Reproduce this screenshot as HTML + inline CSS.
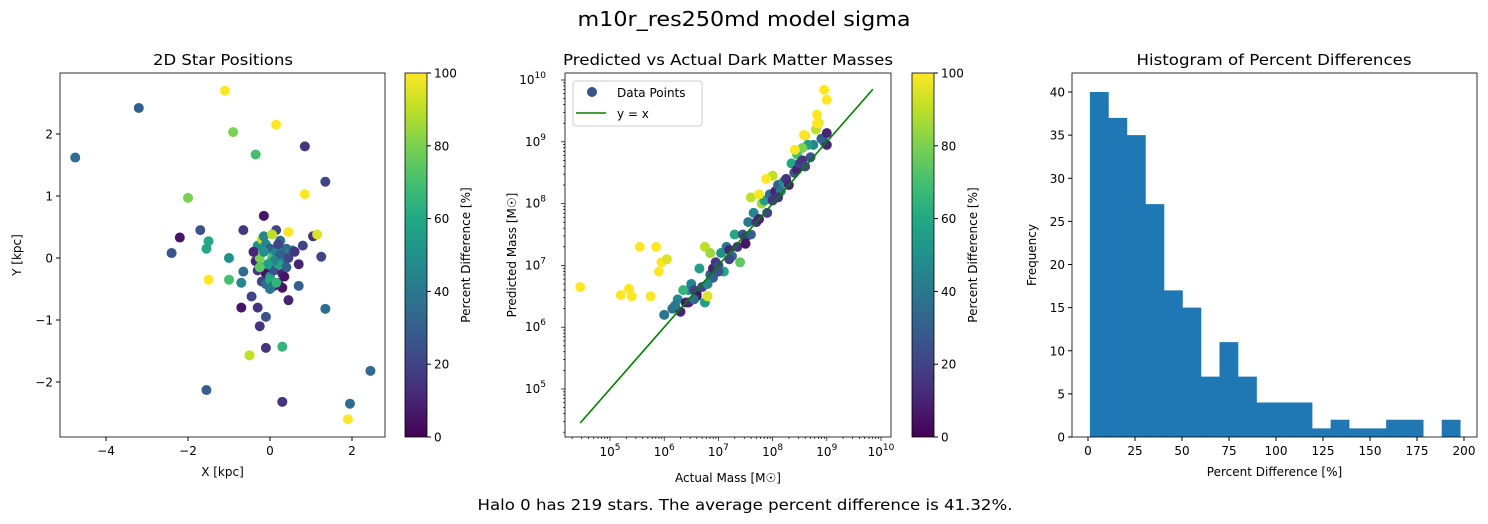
<!DOCTYPE html>
<html><head><meta charset="utf-8"><style>
body{margin:0;background:#fff}
svg{display:block;font-family:"DejaVu Sans","Liberation Sans",sans-serif}
</style></head><body>
<svg id="s" width="1488" height="524" viewBox="0 0 1488 524" xmlns="http://www.w3.org/2000/svg">
<defs>
<linearGradient id="vir" x1="0" y1="1" x2="0" y2="0">
<stop offset="0" stop-color="#440154"/><stop offset="0.1" stop-color="#482475"/><stop offset="0.2" stop-color="#414487"/><stop offset="0.3" stop-color="#355f8d"/><stop offset="0.4" stop-color="#2a788e"/><stop offset="0.5" stop-color="#21918c"/><stop offset="0.6" stop-color="#22a884"/><stop offset="0.7" stop-color="#44bf70"/><stop offset="0.8" stop-color="#7ad151"/><stop offset="0.9" stop-color="#bddf26"/><stop offset="1" stop-color="#fde725"/>
</linearGradient>
</defs>
<text x="744" y="26" font-size="20" text-anchor="middle" textLength="333" lengthAdjust="spacingAndGlyphs">m10r_res250md model sigma</text>
<text x="745" y="510" font-size="15" text-anchor="middle" textLength="535" lengthAdjust="spacingAndGlyphs">Halo 0 has 219 stars. The average percent difference is 41.32%.</text>
<g id="g1"></g>
<g id="g2"></g>
<g id="g3"></g>
</svg>
<script>
// ---- Panel 1 data ----
const posX=[-4.75,-3.2,-1.1,-0.9,0.15,0.85,1.35,0.85,-0.35,-2.0,-1.7,-2.2,-2.4,-1.5,-1.55,-1.0,-1.5,-1.0,-0.7,-0.65,-0.45,-0.7,-0.3,-0.1,-0.25,-0.5,-0.1,0.3,-1.55,0.3,1.35,1.95,2.45,1.9,1.25,1.05,1.15,0.8,0.7,0.7,0.45,0.45,-0.15,0.15,-0.65,
-0.4,-0.3,-0.2,-0.1,0.0,0.1,0.2,0.3,0.4,0.5,-0.35,-0.25,-0.15,-0.05,0.05,0.15,0.25,0.35,0.45,0.55,-0.3,-0.2,-0.1,0.0,0.1,0.2,0.3,0.4,-0.2,-0.1,0.0,0.1,0.2,0.3,-0.15,0.05,0.25,-0.4,0.6,0.1,-0.05,0.2,0.35,0.0,-0.25,0.15];
const posY=[1.62,2.42,2.7,2.03,2.15,1.8,1.23,1.03,1.67,0.97,0.45,0.33,0.08,0.27,0.15,0.0,-0.35,-0.35,-0.4,-0.22,-0.62,-0.8,-0.8,-0.95,-1.1,-1.57,-1.45,-1.43,-2.13,-2.32,-0.82,-2.35,-1.82,-2.6,0.02,0.35,0.38,0.2,-0.1,-0.45,-0.68,0.42,0.68,0.45,0.45,
0.1,0.2,0.3,0.22,0.15,0.05,0.18,0.1,0.15,0.1,-0.05,0.0,0.1,-0.1,0.0,0.1,0.05,-0.05,0.0,0.12,-0.2,-0.15,-0.25,-0.3,-0.2,-0.1,-0.25,-0.15,-0.38,-0.42,-0.35,-0.45,-0.4,-0.48,0.35,0.38,0.28,0.1,0.1,-0.05,-0.1,0.22,-0.3,-0.5,-0.15,-0.4];
const posP=[35,30,100,80,100,15,20,100,70,80,25,5,25,60,60,50,100,70,45,35,20,5,15,25,15,90,15,65,30,15,35,35,35,100,20,15,95,20,10,30,10,100,5,20,15,
20,50,90,45,30,55,40,60,35,45,10,80,50,15,70,45,30,40,20,35,15,60,5,50,25,60,10,30,20,35,60,10,25,5,45,90,35,10,15,45,55,20,5,40,75,65];
// ---- Panel 2 data (log10 masses) ----
const actLog=[4.45,5.2,5.4,5.35,5.55,5.85,5.75,5.9,5.95,6.05,6.0,6.15,6.25,6.3,6.4,6.45,6.5,6.55,6.6,6.7,6.65,6.75,6.8,6.85,6.9,6.95,6.75,6.85,7.0,7.05,7.1,7.15,7.2,7.25,7.3,7.35,7.4,7.45,7.5,7.55,7.6,7.65,7.7,7.75,7.8,7.6,7.85,7.9,7.95,8.0,8.05,8.1,8.0,8.15,8.2,8.25,8.3,8.35,8.4,8.45,8.45,8.5,8.55,8.6,8.7,8.75,8.8,8.85,8.65,8.95,9.0,8.95,9.0,8.9,9.0,8.55,6.35,7.88,7.75,8.41,8.58,8.82,8.82,6.6,6.9,7.2,7.0,6.45,6.2,7.5,8.1,8.6,6.55,6.8];
const predLog=[6.65,6.52,6.5,6.62,7.3,7.3,6.5,6.9,7.05,7.1,6.2,6.3,6.45,6.25,6.4,6.6,6.7,6.6,6.55,6.65,6.95,6.4,6.5,6.85,6.95,7.05,7.3,7.2,7.0,7.2,6.9,7.3,7.25,7.15,7.5,7.3,7.05,7.5,7.45,7.7,7.5,7.85,7.7,7.75,8.0,8.1,8.05,7.85,8.15,8.05,8.2,8.3,8.45,8.2,8.35,8.4,8.3,8.65,8.5,8.55,8.8,8.65,8.7,9.1,8.75,8.95,9.2,9.3,8.95,9.84,9.68,9.0,8.95,9.05,9.14,8.9,6.6,8.4,8.15,8.87,9.11,9.44,9.3,6.5,6.8,7.1,6.9,6.4,6.35,7.35,8.1,8.6,6.45,6.7];
const massP=[100,100,100,100,100,100,100,100,100,95,40,35,45,10,5,50,45,20,15,20,55,55,95,30,10,15,90,85,20,50,60,40,10,35,60,15,75,25,15,40,30,45,15,10,85,90,55,20,35,15,10,30,90,40,50,15,10,60,25,10,70,20,15,95,25,45,90,95,55,100,100,35,10,30,10,80,65,100,100,100,100,100,100,5,30,20,25,10,40,5,15,20,35,45];
// ---- Panel 3 data ----
const binEdges=[1,10.85,20.7,30.55,40.4,50.25,60.1,69.95,79.8,89.65,99.5,109.35,119.2,129.05,138.9,148.75,158.6,168.45,178.3,188.15,198];
const counts=[40,37,35,27,17,15,7,11,7,4,4,4,1,2,1,1,2,2,0,2];

const NS="http://www.w3.org/2000/svg";
function mk(p,t,a,txt){const e=document.createElementNS(NS,t);for(const k in a)e.setAttribute(k,a[k]);if(txt!==undefined)e.textContent=txt;p.appendChild(e);return e;}
const vs=["#440154","#482475","#414487","#355f8d","#2a788e","#21918c","#22a884","#44bf70","#7ad151","#bddf26","#fde725"];
function hx(h){return [1,3,5].map(i=>parseInt(h.substr(i,2),16));}
function vir(p){let t=Math.max(0,Math.min(1,p/100))*10;let i=Math.min(9,Math.floor(t));let f=t-i;const a=hx(vs[i]),b=hx(vs[i+1]);return "rgb("+a.map((v,k)=>Math.round(v+(b[k]-v)*f)).join(",")+")";}
const TS=12;

function colorbar(g,x0,y0,w,h,lx,name){
  const cb=mk(g,"g",{});
  
  
  mk(cb,"rect",{x:x0,y:y0,width:w,height:h,fill:"url(#vir)",stroke:"#000","stroke-width":0.8});
  for(let v=0;v<=100;v+=20){const y=y0+h-v/100*h;mk(cb,"line",{x1:x0+w,x2:x0+w+4,y1:y,y2:y,stroke:"#000"});mk(cb,"text",{x:x0+w+7,y:y+4.5,"font-size":TS},v);}
  const t=mk(cb,"text",{x:lx,y:y0+h/2,"font-size":TS,"text-anchor":"middle",transform:"rotate(-90 "+lx+" "+(y0+h/2)+")"},"Percent Difference [%]");
  
  
}
function title(g,x,txt,len){mk(g,"text",{x:x,y:65,"font-size":15,"text-anchor":"middle",textLength:len,lengthAdjust:"spacingAndGlyphs"},txt);}

// Panel 1
(function(){
  const g=document.getElementById("g1");
  const L=60,R=385,T=73,B=437;
  const sx=v=>270+v*41, sy=v=>258-v*62;
  title(g,223,"2D Star Positions",140);
  for(let i=0;i<posX.length;i++){const c=mk(g,"circle",{cx:sx(posX[i]),cy:sy(posY[i]),r:5,fill:vir(posP[i])});
    
    }
  mk(g,"rect",{x:L,y:T,width:R-L,height:B-T,fill:"none",stroke:"#000","stroke-width":0.8});
  for(let v=-4;v<=2;v+=2){const x=sx(v);mk(g,"line",{x1:x,x2:x,y1:B,y2:B+4,stroke:"#000"});mk(g,"text",{x:x,y:B+18,"font-size":TS,"text-anchor":"middle"},v<0?"\u2212"+(-v):v);}
  for(let v=-2;v<=2;v++){const y=sy(v);mk(g,"line",{x1:L-4,x2:L,y1:y,y2:y,stroke:"#000"});mk(g,"text",{x:L-7,y:y+4.5,"font-size":TS,"text-anchor":"end"},v<0?"\u2212"+(-v):v);}
  mk(g,"text",{x:(L+R)/2,y:476,"font-size":TS,"text-anchor":"middle"},"X [kpc]");
  mk(g,"text",{x:21,y:255,"font-size":TS,"text-anchor":"middle",transform:"rotate(-90 21 255)"},"Y [kpc]");
  colorbar(g,405,73,22,364,470,"colorbar-positions");
})();

// Panel 2
(function(){
  const g=document.getElementById("g2");
  const L=565,R=891,T=73,B=437;
  const sx=v=>610+(v-5)*54.2, sy=v=>389-(v-5)*61.8;
  title(g,728,"Predicted vs Actual Dark Matter Masses",330);
  for(let i=0;i<actLog.length;i++){const c=mk(g,"circle",{cx:sx(actLog[i]),cy:sy(predLog[i]),r:5,fill:vir(massP[i])});
    
    }
  const ln=mk(g,"line",{x1:sx(4.45),y1:sy(4.45),x2:sx(9.85),y2:sy(9.85),stroke:"green","stroke-width":1.6});
  
  
  mk(g,"rect",{x:L,y:T,width:R-L,height:B-T,fill:"none",stroke:"#000","stroke-width":0.8});
  for(let d=4;d<=10;d++){for(let m=1;m<10;m++){const v=d+Math.log10(m);
    const x=sx(v);if(x>=L&&x<=R)mk(g,"line",{x1:x,x2:x,y1:B,y2:B+(m==1?4:2),stroke:"#000","stroke-width":0.7});
    const y=sy(v);if(y>=T&&y<=B)mk(g,"line",{x1:L-(m==1?4:2),x2:L,y1:y,y2:y,stroke:"#000","stroke-width":0.7});}}
  for(let d=5;d<=10;d++){
    const tx=mk(g,"text",{x:sx(d),y:B+19,"font-size":TS,"text-anchor":"middle"});mk(tx,"tspan",{},"10");mk(tx,"tspan",{dy:-6,"font-size":9},d);
    const ty=mk(g,"text",{x:L-19,y:sy(d)+4,"font-size":TS,"text-anchor":"end"});mk(ty,"tspan",{},"10");mk(ty,"tspan",{dy:-6,"font-size":9},d);
  }
  mk(g,"text",{x:(L+R)/2,y:482,"font-size":TS,"text-anchor":"middle"},"Actual Mass [M\u2609]");
  mk(g,"text",{x:516,y:255,"font-size":TS,"text-anchor":"middle",transform:"rotate(-90 516 255)"},"Predicted Mass [M\u2609]");
  const lg=mk(g,"g",{});
  
  
  mk(lg,"rect",{x:573,y:81,width:129,height:45,rx:3,fill:"#fff",stroke:"#ccc"});
  mk(lg,"circle",{cx:592,cy:92,r:5,fill:"#3b528b"});
  mk(lg,"text",{x:617,y:97,"font-size":TS},"Data Points");
  mk(lg,"line",{x1:576,x2:606,y1:113,y2:113,stroke:"green","stroke-width":1.6});
  mk(lg,"text",{x:617,y:118,"font-size":TS},"y = x");
  colorbar(g,912,73,22,364,977,"colorbar-mass");
})();

// Panel 3
(function(){
  const g=document.getElementById("g3");
  const L=1072,R=1477,T=73,B=437;
  const sx=v=>1088+v*1.88, sy=v=>437-v*8.625;
  title(g,1274,"Histogram of Percent Differences",275);
  for(let i=0;i<counts.length;i++){if(!counts[i])continue;const r=mk(g,"rect",{x:sx(binEdges[i]),y:sy(counts[i]),width:sx(binEdges[i+1])-sx(binEdges[i])+0.3,height:sy(0)-sy(counts[i]),fill:"#1f77b4"});
    
    }
  mk(g,"rect",{x:L,y:T,width:R-L,height:B-T,fill:"none",stroke:"#000","stroke-width":0.8});
  for(let v=0;v<=200;v+=25){const x=sx(v);mk(g,"line",{x1:x,x2:x,y1:B,y2:B+4,stroke:"#000"});mk(g,"text",{x:x,y:B+18,"font-size":TS,"text-anchor":"middle"},v);}
  for(let v=0;v<=40;v+=5){const y=sy(v);mk(g,"line",{x1:L-4,x2:L,y1:y,y2:y,stroke:"#000"});mk(g,"text",{x:L-7,y:y+4.5,"font-size":TS,"text-anchor":"end"},v);}
  mk(g,"text",{x:(L+R)/2,y:476,"font-size":TS,"text-anchor":"middle"},"Percent Difference [%]");
  mk(g,"text",{x:1036,y:255,"font-size":TS,"text-anchor":"middle",transform:"rotate(-90 1036 255)"},"Frequency");
})();
</script>
</body></html>
